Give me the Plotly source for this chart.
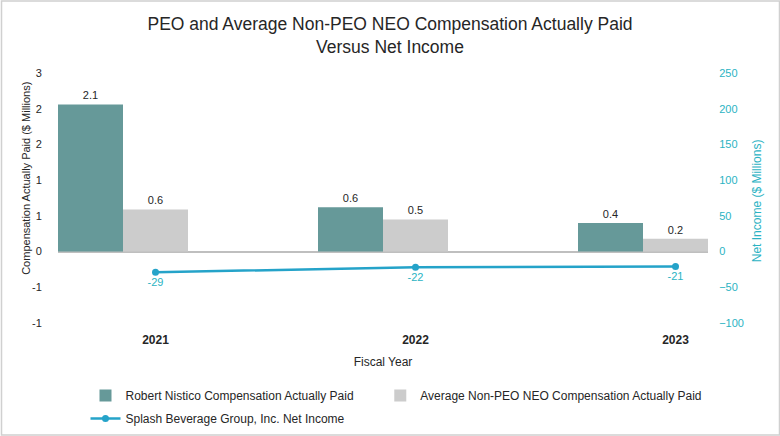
import plotly.graph_objects as go

YEARS = ["2021", "2022", "2023"]
PEO_CAP = [2.06, 0.62, 0.40]          # Robert Nistico CAP ($M)
NEO_CAP = [0.59, 0.45, 0.18]          # Avg Non-PEO NEO CAP ($M)
NET_INCOME = [-29, -22, -21]          # Net income ($M)
LEFT_TICK_VALS = [-1.0, -0.5, 0.0, 0.5, 1.0, 1.5, 2.0, 2.5]
LEFT_TICK_TEXT = ["-1", "-1", "0", "1", "1", "2", "2", "3"]
RIGHT_TICK_VALS = [-100, -50, 0, 50, 100, 150, 200, 250]

FONT = "Liberation Sans, Arial, sans-serif"
TEAL_BAR = "#669999"
GRAY_BAR = "#CCCCCC"
LINE_COL = "#25A3C9"
TEAL_TXT = "#2BB3C3"
DARK = "#262626"

fig = go.Figure()
fig.add_trace(go.Bar(
    x=YEARS, y=PEO_CAP, name="Robert Nistico Compensation Actually Paid",
    marker=dict(color=TEAL_BAR, line=dict(width=0)),
    width=0.25, offset=-0.375, legend="legend",
    text=[f"{v:.1f}" for v in PEO_CAP], textposition="outside",
    textfont=dict(size=11, color=DARK, family=FONT), cliponaxis=False,
))
fig.add_trace(go.Bar(
    x=YEARS, y=NEO_CAP, name="Average Non-PEO NEO Compensation Actually Paid",
    marker=dict(color=GRAY_BAR, line=dict(width=0)),
    width=0.25, offset=-0.125, legend="legend2",
    text=[f"{v:.1f}" for v in NEO_CAP], textposition="outside",
    textfont=dict(size=11, color=DARK, family=FONT), cliponaxis=False,
))
fig.add_trace(go.Scatter(
    x=YEARS, y=NET_INCOME, yaxis="y2", name="Splash Beverage Group, Inc. Net Income",
    mode="lines+markers+text", legend="legend3",
    line=dict(color=LINE_COL, width=2.5),
    marker=dict(color=LINE_COL, size=7),
    text=[str(v) for v in NET_INCOME], textposition="bottom center",
    textfont=dict(size=11, color=TEAL_TXT, family=FONT), cliponaxis=False,
))

legend_common = dict(
    orientation="h", xanchor="left", yanchor="top",
    font=dict(size=12, color=DARK, family=FONT), bgcolor="rgba(0,0,0,0)",
)

fig.update_layout(
    width=780, height=436,
    margin=dict(l=57.5, r=72, t=73, b=113, autoexpand=False),
    paper_bgcolor="white", plot_bgcolor="white",
    font=dict(family=FONT, color=DARK, size=11),
    barmode="overlay",
    title=dict(
        text="PEO and Average Non-PEO NEO Compensation Actually Paid<br>Versus Net Income",
        x=0.5, xref="container", xanchor="center",
        y=1 - 30 / 436, yref="container", yanchor="top",
        font=dict(size=17.5, color=DARK, family=FONT),
    ),
    xaxis=dict(
        type="category", range=[-0.375, 2.125],
        showgrid=False, showline=False, zeroline=False,
        ticks="outside", ticklen=6, tickcolor="rgba(0,0,0,0)",
        tickfont=dict(size=12, color=DARK, family=FONT, weight="bold"),
        title=dict(text="Fiscal Year", font=dict(size=12, color=DARK, family=FONT), standoff=11),
    ),
    yaxis=dict(
        range=[-1, 2.5], tickvals=LEFT_TICK_VALS, ticktext=LEFT_TICK_TEXT,
        showgrid=False, showline=False,
        zeroline=True, zerolinecolor="#BFBFBF", zerolinewidth=1.5,
        ticks="outside", ticklen=13, tickcolor="rgba(0,0,0,0)",
        tickfont=dict(size=11, color=DARK, family=FONT),
    ),
    yaxis2=dict(
        overlaying="y", side="right", range=[-100, 250], tickvals=RIGHT_TICK_VALS,
        showgrid=False, showline=False, zeroline=False,
        ticks="outside", ticklen=8, tickcolor="rgba(0,0,0,0)",
        tickfont=dict(size=11, color=TEAL_TXT, family=FONT),
    ),
    legend=dict(x=0.0423, y=-0.232, **legend_common),
    legend2=dict(x=0.4958, y=-0.232, **legend_common),
    legend3=dict(x=0.0423, y=-0.324, **legend_common),
    showlegend=True,
    annotations=[
        dict(text="Compensation Actually Paid ($ Millions)", textangle=-90,
             xref="paper", yref="paper", x=-0.0495, y=0.58, showarrow=False,
             xanchor="center", yanchor="middle",
             font=dict(size=11, color=DARK, family=FONT)),
        dict(text="Net Income ($ Millions)", textangle=-90,
             xref="paper", yref="paper", x=1.075, y=0.49, showarrow=False,
             xanchor="center", yanchor="middle",
             font=dict(size=12, color=TEAL_TXT, family=FONT)),
    ],
    shapes=[
        dict(type="rect", xref="paper", yref="paper",
             xsizemode="pixel", ysizemode="pixel", xanchor=0, yanchor=0,
             x0=-56.5, x1=721.5, y0=-112, y1=322,
             line=dict(color="#D0D0D0", width=1.5), fillcolor="rgba(0,0,0,0)",
             layer="below"),
    ],
)

fig.write_html("out.html", config={"displayModeBar": False},
               post_script="document.body.style.margin='0';")
